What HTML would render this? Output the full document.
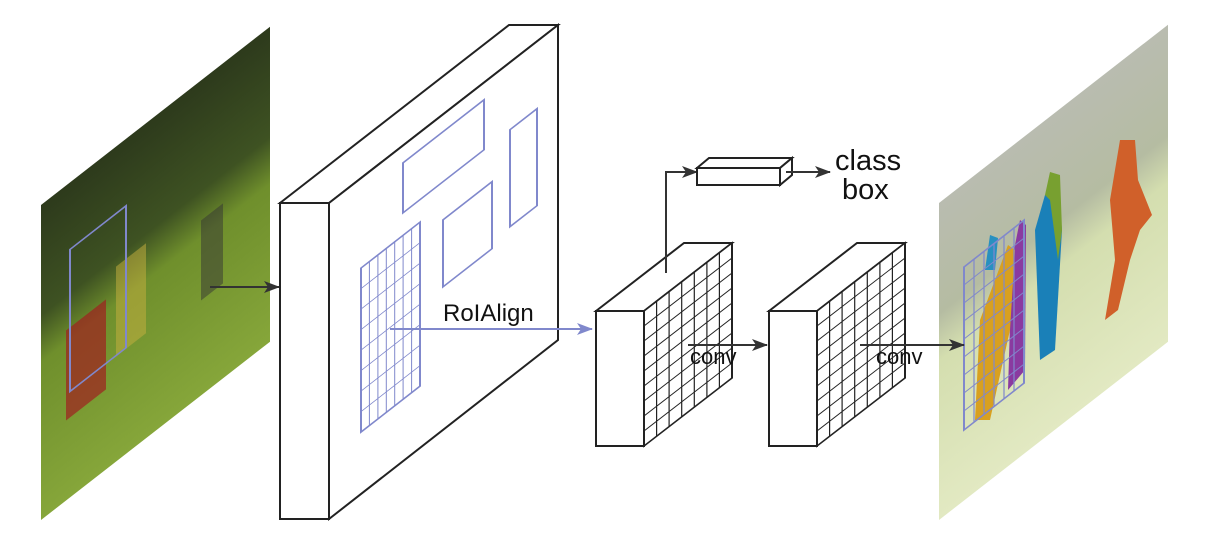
<!DOCTYPE html>
<html><head><style>body{margin:0;background:#fff}svg{display:block}</style></head>
<body>
<svg width="1217" height="548" viewBox="0 0 1217 548" xmlns="http://www.w3.org/2000/svg" font-family="Liberation Sans, sans-serif">
<defs>
<linearGradient id="g1" x1="0" y1="0" x2="0" y2="1">
<stop offset="0" stop-color="#2d3a1c"/><stop offset="0.35" stop-color="#3e5222"/><stop offset="0.5" stop-color="#6f8f2c"/><stop offset="1" stop-color="#86a63a"/></linearGradient>
<linearGradient id="g2" x1="0" y1="0" x2="0" y2="1">
<stop offset="0" stop-color="#b9bcb0"/><stop offset="0.35" stop-color="#b5bca2"/><stop offset="0.5" stop-color="#d4deaf"/><stop offset="1" stop-color="#e2e9c2"/></linearGradient>
<marker id="ak" markerWidth="16" markerHeight="12" refX="15" refY="6" orient="auto" markerUnits="userSpaceOnUse"><path d="M0,0 L16,6 L0,12 L4,6z" fill="#333"/></marker>
<marker id="ab" markerWidth="16" markerHeight="12" refX="15" refY="6" orient="auto" markerUnits="userSpaceOnUse"><path d="M0,0 L16,6 L0,12 L4,6z" fill="#8088cc"/></marker>
</defs>
<g fill="none" stroke-linejoin="miter">
<!-- left image -->
<g transform="translate(41,205) skewY(-37.9)">
<rect x="0" y="0" width="229" height="315" fill="url(#g1)"/>
<rect x="25" y="145" width="40" height="90" fill="#a02020" opacity="0.7"/>
<rect x="75" y="120" width="30" height="90" fill="#c8b040" opacity="0.5"/>
<rect x="160" y="140" width="22" height="80" fill="#333" opacity="0.5"/>
<rect x="29" y="67" width="56" height="142" stroke="#8088cc" stroke-width="2"/>
</g>
<line x1="210" y1="287" x2="279" y2="287" stroke="#333" stroke-width="2" marker-end="url(#ak)"/>
<!-- big block -->
<polygon points="280,203 509,25 558,25 329,203" fill="#fff" stroke="#222" stroke-width="2"/>
<rect x="280" y="203" width="49" height="316" fill="#fff" stroke="#222" stroke-width="2"/>
<polygon points="329,203 558,25 558,340 329,519" fill="#fff" stroke="#222" stroke-width="2"/>
<g transform="translate(329,203) skewY(-37.9)" stroke="#8088cc" stroke-width="2">
<rect x="74" y="17.5" width="81" height="50"/>
<rect x="181" y="67.6" width="27" height="97"/>
<rect x="114" y="105.6" width="49" height="67"/>
<rect x="32" y="90" width="59" height="164"/>
<g stroke-width="1">
<path d="M40.4,90v164M48.9,90v164M57.3,90v164M65.7,90v164M74.1,90v164M82.6,90v164
M32,110.5h59M32,131h59M32,151.5h59M32,172h59M32,192.5h59M32,213h59M32,233.5h59"/>
</g>
</g>
<line x1="390" y1="329" x2="592" y2="329" stroke="#8088cc" stroke-width="2" marker-end="url(#ab)"/>
<text x="443" y="321" font-size="24" fill="#111" stroke="none">RoIAlign</text>
<!-- block 1 -->
<polygon points="596,311 684,243 732,243 644,311" fill="#fff" stroke="#222" stroke-width="2"/>
<rect x="596" y="311" width="48" height="135" fill="#fff" stroke="#222" stroke-width="2"/>
<g transform="translate(644,311) skewY(-37.7)">
<rect x="0" y="0" width="88" height="135" fill="#fff" stroke="#222" stroke-width="2"/>
<path stroke="#222" stroke-width="1.2" d="M12.6,0v135M25.1,0v135M37.7,0v135M50.3,0v135M62.9,0v135M75.4,0v135
M0,15h88M0,30h88M0,45h88M0,60h88M0,75h88M0,90h88M0,105h88M0,120h88"/>
</g>
<!-- block 2 -->
<polygon points="769,311 857,243 905,243 817,311" fill="#fff" stroke="#222" stroke-width="2"/>
<rect x="769" y="311" width="48" height="135" fill="#fff" stroke="#222" stroke-width="2"/>
<g transform="translate(817,311) skewY(-37.7)">
<rect x="0" y="0" width="88" height="135" fill="#fff" stroke="#222" stroke-width="2"/>
<path stroke="#222" stroke-width="1.2" d="M12.6,0v135M25.1,0v135M37.7,0v135M50.3,0v135M62.9,0v135M75.4,0v135
M0,15h88M0,30h88M0,45h88M0,60h88M0,75h88M0,90h88M0,105h88M0,120h88"/>
</g>
<!-- up branch -->
<polyline points="666,273 666,172 697,172" stroke="#333" stroke-width="2" marker-end="url(#ak)"/>
<polygon points="697,168 709,158 792,158 780,168" fill="#fff" stroke="#222" stroke-width="2"/>
<polygon points="780,168 792,158 792,175 780,185" fill="#fff" stroke="#222" stroke-width="2"/>
<rect x="697" y="168" width="83" height="17" fill="#fff" stroke="#222" stroke-width="2"/>
<line x1="786" y1="172" x2="830" y2="172" stroke="#333" stroke-width="2" marker-end="url(#ak)"/>
<text x="835" y="170" font-size="29" fill="#111" stroke="none">class</text>
<text x="842" y="199" font-size="29" fill="#111" stroke="none">box</text>
<!-- right image -->
<g transform="translate(939,203) skewY(-37.9)">
<rect x="0" y="0" width="229" height="317" fill="url(#g2)"/>
</g>
<path d="M1105,320 L1115,260 L1110,200 L1120,140 L1135,140 L1138,180 L1152,215 L1140,230 L1130,260 L1118,310z" fill="#d0602a" stroke="none"/>
<path d="M1040,360 L1035,230 L1045,195 L1058,190 L1062,230 L1055,350z" fill="#1a80b8" stroke="none"/>
<path d="M1045,195 L1050,172 L1060,175 L1062,230 L1058,260 L1050,200z" fill="#78a030" stroke="none"/>
<path d="M1008,390 L1012,260 L1020,220 L1026,225 L1025,370z" fill="#8a3aa0" stroke="none"/>
<path d="M975,420 L980,320 L995,280 L1008,245 L1015,250 L1010,330 L990,420z" fill="#d8a020" stroke="none"/>
<path d="M985,270 L990,235 L998,238 L995,270z" fill="#2890c0" stroke="none"/>
<g transform="translate(964,267) skewY(-38)" stroke="#8088cc">
<rect x="0" y="0" width="60" height="163" stroke-width="2"/>
<path stroke-width="1.2" d="M10,0v163M20,0v163M30,0v163M40,0v163M50,0v163
M0,18h60M0,36h60M0,54h60M0,72h60M0,90h60M0,108h60M0,126h60M0,144h60"/>
</g>
<!-- conv arrows -->
<line x1="688" y1="345" x2="767" y2="345" stroke="#333" stroke-width="2" marker-end="url(#ak)"/>
<text x="690" y="364" font-size="22" fill="#111" stroke="none">conv</text>
<line x1="860" y1="345" x2="964" y2="345" stroke="#333" stroke-width="2" marker-end="url(#ak)"/>
<text x="876" y="364" font-size="22" fill="#111" stroke="none">conv</text>
</g>
</svg>
</body></html>
